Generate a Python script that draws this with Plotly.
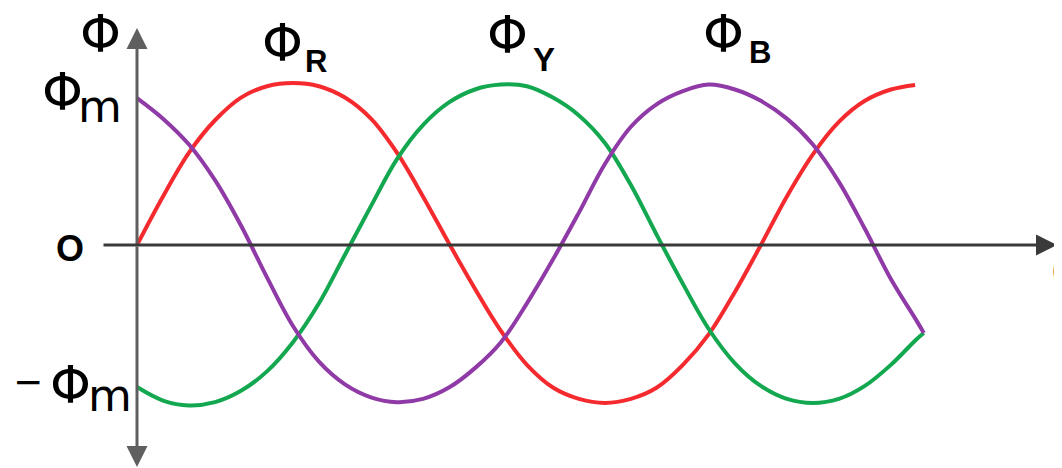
import plotly.graph_objects as go

theta_R = [0, 15, 30, 45, 60, 75, 90, 105, 120, 135, 150, 165, 180, 195, 210, 225, 240, 255, 270,
           285, 300, 315, 330, 345, 360, 375, 390, 405, 420, 435, 449]
phi_R = [0, 0.30, 0.57, 0.77, 0.91, 0.98, 1.0, 0.98, 0.91, 0.78, 0.57, 0.30, 0.01, -0.27, -0.53, -0.74, -0.88, -0.95, -0.975,
         -0.95, -0.88, -0.74, -0.55, -0.29, 0, 0.30, 0.56, 0.76, 0.89, 0.96, 0.988]

theta_Y = [0, 15, 30, 45, 60, 75, 90, 105, 120, 135, 150, 165, 180, 195, 210, 225, 240, 255, 270,
           285, 300, 315, 330, 345, 360, 375, 390, 405, 420, 435, 450, 454]
phi_Y = [-0.877, -0.96, -0.99, -0.97, -0.90, -0.78, -0.60, -0.36, -0.06, 0.24, 0.53, 0.74, 0.88, 0.96, 0.99, 0.98, 0.91, 0.80, 0.63,
         0.37, 0.06, -0.24, -0.52, -0.73, -0.87, -0.95, -0.975, -0.95, -0.87, -0.74, -0.58, -0.543]

theta_B = [0, 15, 30, 45, 60, 75, 90, 105, 120, 135, 150, 165, 180, 195, 210, 225, 240, 255, 270,
           285, 300, 315, 330, 345, 360, 375, 390, 405, 420, 435, 450, 454]
phi_B = [0.907, 0.78, 0.62, 0.40, 0.12, -0.20, -0.50, -0.72, -0.86, -0.94, -0.97, -0.95, -0.88, -0.76, -0.60, -0.36, -0.09, 0.20, 0.50,
         0.73, 0.87, 0.95, 0.99, 0.96, 0.89, 0.78, 0.62, 0.39, 0.10, -0.21, -0.47, -0.543]

W, H = 1062, 468
OFF = 8                  # default body margin of the html page
X0, PXDEG = 137, 1.733   # pixel of origin, pixels per degree
Y0, PXAMP = 245, 162


def tx(px):
    return (px - X0) / PXDEG


def ty(py):
    return (Y0 - py) / PXAMP


fig = go.Figure()
for th, ph, col in [(theta_R, phi_R, "#f42a2f"),
                    (theta_Y, phi_Y, "#13a850"),
                    (theta_B, phi_B, "#8f3aa6")]:
    fig.add_trace(go.Scatter(x=th, y=ph, mode="lines",
                             line=dict(color=col, width=4, shape="spline", smoothing=1.0),
                             hoverinfo="skip", showlegend=False))

ann = []
# axes with arrows
ann.append(dict(x=0, y=ty(28), ax=0, ay=0, axref="x", ayref="y", xref="x", yref="y",
                text="", showarrow=True, arrowhead=2, arrowsize=1.4, arrowwidth=3, arrowcolor="#5f5f5f"))
ann.append(dict(x=0, y=ty(467), ax=0, ay=0, axref="x", ayref="y", xref="x", yref="y",
                text="", showarrow=True, arrowhead=2, arrowsize=1.4, arrowwidth=3, arrowcolor="#5f5f5f"))
ann.append(dict(x=tx(1057), y=0, ax=tx(102), ay=0, axref="x", ayref="y", xref="x", yref="y",
                text="", showarrow=True, arrowhead=2, arrowsize=1.4, arrowwidth=3, arrowcolor="#3a3a3a"))

sans = "Liberation Sans, Arial, sans-serif"
dj = "DejaVu Sans, sans-serif"


def label(txt, px, py, size, family=sans, xanchor="center"):
    ann.append(dict(x=tx(px), y=ty(py), xref="x", yref="y", text=txt, showarrow=False,
                    xanchor=xanchor, yanchor="middle",
                    font=dict(family=family, size=size, color="#000000")))


PHI = 52
label("Φ", 100, 34, PHI, dj)
label("Φ", 62, 92, PHI, dj)
label("m", 100, 106, 45, dj)
label("−", 28, 382, 46)
label("Φ", 70, 385, PHI, dj)
label("m", 110, 395, 45, dj)
label("<b>O</b>", 70, 248, 36)
label("Φ", 282, 43, PHI, dj)
label("<b>R</b>", 316, 61, 31)
label("Φ", 507, 35, PHI, dj)
label("<b>Y</b>", 544, 59, 33)
label("Φ", 723, 34, PHI, dj)
label("<b>B</b>", 760, 52, 31)
label("θ", 1050, 272, 32, xanchor="left")

fig.update_layout(
    width=W, height=H,
    margin=dict(l=0, r=0, t=0, b=0),
    paper_bgcolor="#ffffff", plot_bgcolor="#ffffff",
    xaxis=dict(range=[tx(OFF), tx(W + OFF)], visible=False, fixedrange=True),
    yaxis=dict(range=[ty(H + OFF), ty(OFF)], visible=False, fixedrange=True),
    annotations=ann,
)

fig.write_html("out.html")
